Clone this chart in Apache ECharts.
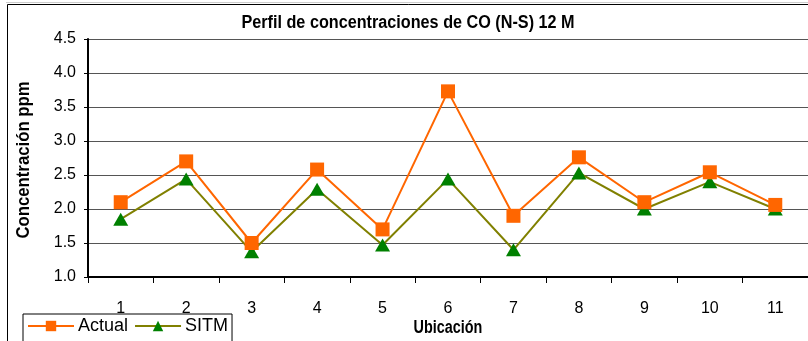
<!DOCTYPE html>
<html>
<head>
<meta charset="utf-8">
<script src="https://cdn.jsdelivr.net/npm/echarts@6/dist/echarts.min.js"></script>
<style>
  html, body { margin: 0; padding: 0; background: #ffffff; }
  #chart { width: 808px; height: 341px; }
</style>
</head>
<body>
<div id="chart"></div>
<script>
// Sampling locations along the N-S profile
const ubicaciones = ['1', '2', '3', '4', '5', '6', '7', '8', '9', '10', '11'];
// CO concentration (ppm) measured at each location
const actual = [2.1, 2.7, 1.5, 2.58, 1.7, 3.73, 1.9, 2.76, 2.1, 2.54, 2.06];
// CO concentration (ppm) with SITM
const sitm = [1.85, 2.44, 1.37, 2.29, 1.47, 2.44, 1.4, 2.53, 2.0, 2.4, 2.0];

const sans = "'Liberation Sans', Arial, sans-serif";

const chart = echarts.init(document.getElementById('chart'), null, { renderer: 'canvas' });

chart.setOption({
  backgroundColor: '#ffffff',
  animation: false,
  grid: { left: 88, top: 39, width: 726, height: 238, containLabel: false },
  xAxis: {
    type: 'category',
    data: ubicaciones,
    boundaryGap: true,
    axisLine: { show: true, lineStyle: { color: '#000', width: 2 } },
    axisTick: { show: true, alignWithLabel: false, length: 6, lineStyle: { color: '#000', width: 1 } },
    axisLabel: { margin: 24, fontFamily: sans, fontSize: 16, color: '#000' },
    splitLine: { show: false }
  },
  yAxis: {
    type: 'value',
    min: 1,
    max: 4.5,
    interval: 0.5,
    axisLine: { show: true, lineStyle: { color: '#000', width: 2 } },
    axisTick: { show: true, length: 4, lineStyle: { color: '#000', width: 1 } },
    axisLabel: {
      margin: 12, fontFamily: sans, fontSize: 16, color: '#000',
      formatter: v => v.toFixed(1)
    },
    splitLine: { show: true, lineStyle: { color: '#555555', width: 1 } }
  },
  legend: {
    left: 23,
    top: 314,
    padding: [3, 4, 12, 4],
    itemGap: 6,
    itemWidth: 46,
    itemHeight: 13,
    borderColor: '#000',
    borderWidth: 1,
    backgroundColor: '#ffffff',
    textStyle: { fontFamily: sans, fontSize: 18, color: '#000', padding: [0, 0, 0, -1] },
    data: ['Actual', 'SITM']
  },
  graphic: [
    // outer chart frame
    {
      type: 'rect',
      shape: { x: 7.5, y: 4.5, width: 820, height: 350 },
      style: { fill: 'none', stroke: '#000', lineWidth: 1 },
      silent: true, z: 100
    },
    {
      type: 'line',
      shape: { x1: 6, y1: 2.5, x2: 808, y2: 2.5 },
      style: { stroke: '#cccccc', lineWidth: 1 },
      silent: true, z: 100
    },
    // chart title (condensed bold)
    {
      type: 'text',
      x: 408, y: 23,
      scaleX: 0.9,
      style: {
        text: 'Perfil de concentraciones de CO (N-S) 12 M',
        fontFamily: sans, fontWeight: 'bold', fontSize: 18, fill: '#000',
        align: 'center', verticalAlign: 'middle'
      },
      silent: true
    },
    // y axis title, rotated
    {
      type: 'text',
      x: 15, y: 160,
      rotation: Math.PI / 2,
      scaleX: 0.93,
      style: {
        text: 'Concentración ppm',
        fontFamily: sans, fontWeight: 'bold', fontSize: 18, fill: '#000',
        align: 'center', verticalAlign: 'top'
      },
      silent: true
    },
    // x axis title
    {
      type: 'text',
      x: 448, y: 328,
      scaleX: 0.8,
      style: {
        text: 'Ubicación',
        fontFamily: sans, fontWeight: 'bold', fontSize: 18, fill: '#000',
        align: 'center', verticalAlign: 'middle'
      },
      silent: true
    }
  ],
  series: [
    {
      name: 'Actual',
      type: 'line',
      data: actual,
      symbol: 'rect',
      symbolSize: 14,
      color: '#FF6600',
      itemStyle: { color: '#FF6600' },
      lineStyle: { color: '#FF6600', width: 2 },
      z: 3
    },
    {
      name: 'SITM',
      type: 'line',
      data: sitm,
      symbol: 'triangle',
      symbolSize: [15, 13],
      color: '#008000',
      itemStyle: { color: '#008000' },
      lineStyle: { color: '#808000', width: 2 },
      z: 2
    }
  ]
});
</script>
</body>
</html>
